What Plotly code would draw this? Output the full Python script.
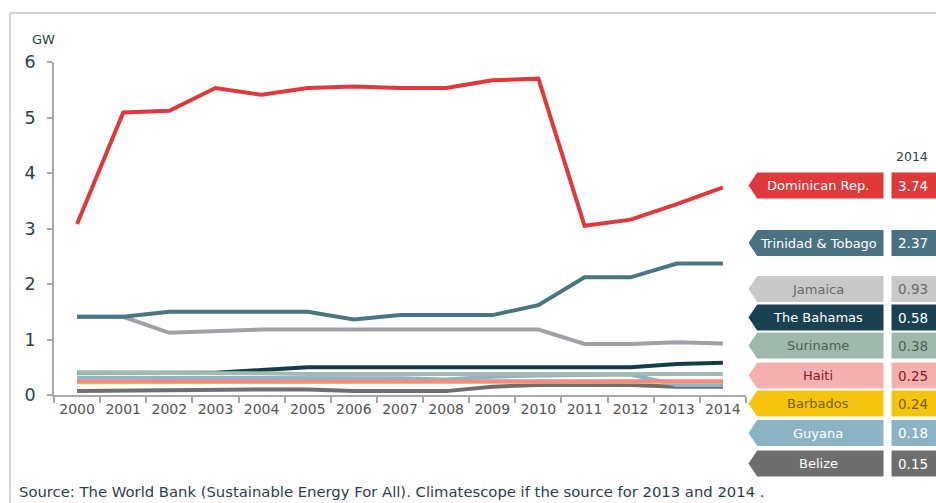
import plotly.graph_objects as go

years = [str(y) for y in range(2000, 2015)]

dominican = [3.08, 5.09, 5.12, 5.53, 5.41, 5.53, 5.56, 5.53, 5.53, 5.67, 5.70, 3.05, 3.16, 3.44, 3.74]
trinidad = [1.41, 1.41, 1.50, 1.50, 1.50, 1.50, 1.36, 1.44, 1.44, 1.44, 1.62, 2.12, 2.12, 2.37, 2.37]
jamaica = [1.41, 1.41, 1.12, 1.15, 1.18, 1.18, 1.18, 1.18, 1.18, 1.18, 1.18, 0.92, 0.92, 0.95, 0.93]
bahamas = [0.40, 0.40, 0.40, 0.40, 0.45, 0.50, 0.50, 0.50, 0.50, 0.50, 0.50, 0.50, 0.50, 0.56, 0.58]
suriname = [0.40, 0.40, 0.40, 0.40, 0.39, 0.38, 0.38, 0.38, 0.38, 0.39, 0.39, 0.39, 0.39, 0.38, 0.38]
haiti = [0.25, 0.25, 0.25, 0.25, 0.25, 0.25, 0.25, 0.25, 0.25, 0.26, 0.26, 0.26, 0.26, 0.25, 0.25]
barbados = [0.23, 0.23, 0.23, 0.23, 0.23, 0.23, 0.23, 0.23, 0.23, 0.24, 0.24, 0.24, 0.24, 0.24, 0.24]
guyana = [0.31, 0.31, 0.31, 0.31, 0.31, 0.30, 0.30, 0.30, 0.28, 0.33, 0.35, 0.36, 0.37, 0.18, 0.18]
belize = [0.07, 0.08, 0.08, 0.10, 0.10, 0.10, 0.07, 0.07, 0.07, 0.15, 0.18, 0.18, 0.18, 0.15, 0.15]

names = ["Dominican Rep.", "Trinidad & Tobago", "Jamaica", "The Bahamas", "Suriname",
         "Haiti", "Barbados", "Guyana", "Belize"]
values_2014 = ["3.74", "2.37", "0.93", "0.58", "0.38", "0.25", "0.24", "0.18", "0.15"]
series = [dominican, trinidad, jamaica, bahamas, suriname, haiti, barbados, guyana, belize]
line_colors = ["#e0393c", "#4a7583", "#a0a0a6", "#163c4a", "#a2bab0",
               "#ee8a90", "#f5c40f", "#8ab6c6", "#6e6e6e"]
box_colors = ["#e0393c", "#4a7280", "#c8c8c8", "#1a4150", "#a0b8ac",
              "#f4b0b0", "#f5c40f", "#8ab4c4", "#6e6e6e"]
text_colors = ["white", "white", "#6a6a6a", "white", "#4e605a",
               "#8b1a1a", "#7a6000", "white", "white"]
# legend box centre positions (pixels from top of page)
box_centers = [185.5, 243, 289, 317.5, 345.5, 375.5, 403.5, 433, 463.5]

draw_order = [8, 7, 6, 5, 3, 4, 2, 1, 0]

FONT = "DejaVu Sans, Verdana, sans-serif"
DARK = "#2a3f4c"

L, R, T, B = 54, 746, 62, 395
W, H = 936, 503


def px(x):
    return (x - L) / (R - L)


def py(y):
    return (B - y) / (B - T)


fig = go.Figure()
for i in draw_order:
    fig.add_trace(go.Scatter(
        x=years, y=series[i], mode="lines", name=names[i],
        line=dict(color=line_colors[i], width=4),
        showlegend=False,
    ))

shapes = []
annotations = []

# frame
shapes.append(dict(type="line", xref="paper", yref="paper",
                   x0=px(10), x1=px(940), y0=py(13), y1=py(13),
                   line=dict(color="#d6d6d6", width=2)))
shapes.append(dict(type="line", xref="paper", yref="paper",
                   x0=px(10), x1=px(10), y0=py(13), y1=py(510),
                   line=dict(color="#d6d6d6", width=2)))

for i, name in enumerate(names):
    c = box_centers[i]
    top, bot = c - 13.5, c + 13.5
    tip, x0, x1 = 748, 757, 884
    path = "M {} {} L {} {} L {} {} L {} {} L {} {} Z".format(
        px(tip), py(c), px(x0), py(top), px(x1), py(top), px(x1), py(bot), px(x0), py(bot))
    shapes.append(dict(type="path", xref="paper", yref="paper", path=path,
                       fillcolor=box_colors[i], line=dict(color="white", width=1)))
    shapes.append(dict(type="rect", xref="paper", yref="paper",
                       x0=px(891), x1=px(945), y0=py(top), y1=py(bot),
                       fillcolor=box_colors[i], line=dict(color="white", width=1)))
    annotations.append(dict(xref="paper", yref="paper", x=px(818), y=py(c),
                            text=name, showarrow=False, xanchor="center", yanchor="middle",
                            font=dict(family=FONT, size=13, color=text_colors[i])))
    annotations.append(dict(xref="paper", yref="paper", x=px(913), y=py(c),
                            text=values_2014[i], showarrow=False, xanchor="center", yanchor="middle",
                            font=dict(family=FONT, size=13.5, color=text_colors[i])))

annotations.append(dict(xref="paper", yref="paper", x=px(912), y=py(156),
                        text="2014", showarrow=False, xanchor="center", yanchor="middle",
                        font=dict(family=FONT, size=12.5, color=DARK)))
annotations.append(dict(xref="paper", yref="paper", x=px(30), y=py(40),
                        text="GW", showarrow=False, xanchor="left", yanchor="middle",
                        font=dict(family=FONT, size=13, color=DARK)))
annotations.append(dict(xref="paper", yref="paper", x=px(17), y=py(491),
                        text="Source: The World Bank (Sustainable Energy For All). Climatescope if the source for 2013 and 2014 .",
                        showarrow=False, xanchor="left", yanchor="middle",
                        font=dict(family=FONT, size=14.8, color=DARK)))

fig.update_layout(
    width=W, height=H,
    margin=dict(l=L, r=W - R, t=T, b=H - B, pad=0),
    paper_bgcolor="white", plot_bgcolor="white",
    shapes=shapes, annotations=annotations,
    xaxis=dict(type="category", range=[-0.5, 14.5], tickson="boundaries",
               showgrid=False, zeroline=False, showline=True, linecolor="#a8a8a8", linewidth=1.5,
               ticks="outside", ticklen=6, tickcolor="#a8a8a8", tickwidth=1.5,
               tickfont=dict(family=FONT, size=14, color="#555555")),
    yaxis=dict(range=[0, 6], dtick=1, showgrid=False, zeroline=False,
               showline=True, linecolor="#a8a8a8", linewidth=1.5,
               ticks="outside", ticklen=5, tickcolor="#a8a8a8", tickwidth=1.5,
               ticklabelstandoff=8,
               tickfont=dict(family=FONT, size=17.5, color=DARK)),
)

fig.write_html("out.html")
